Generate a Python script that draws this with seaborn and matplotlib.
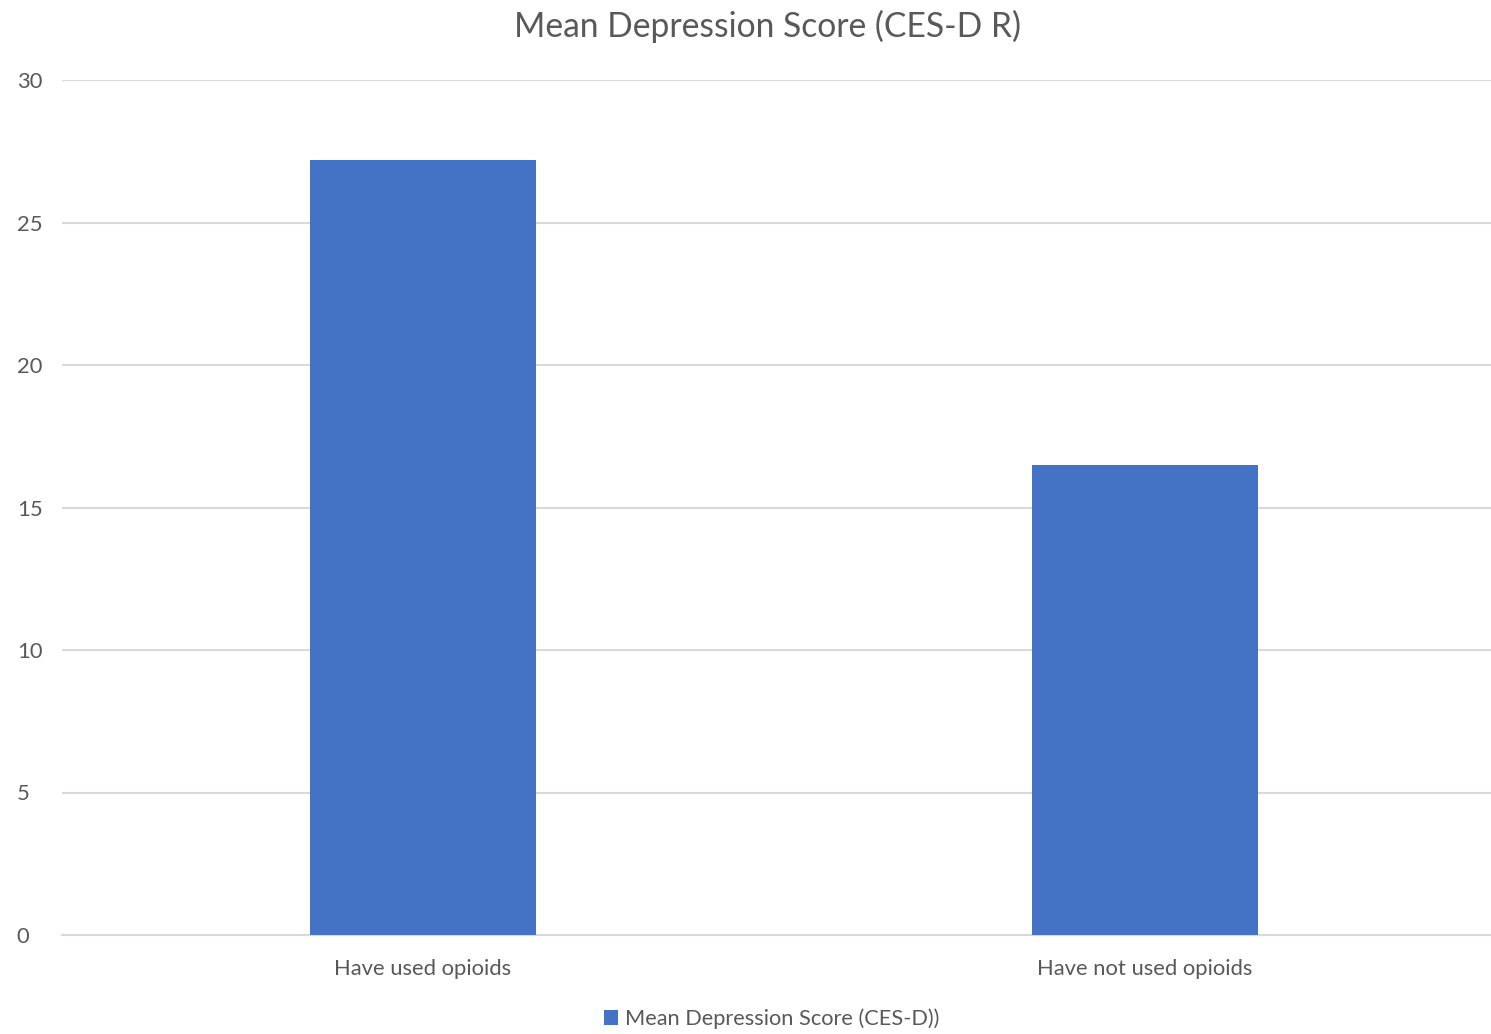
import matplotlib
matplotlib.use("Agg")
import matplotlib.pyplot as plt
import seaborn as sns
import pandas as pd
from matplotlib.patches import Patch

categories = ["Have used opioids", "Have not used opioids"]
values = [27.2, 16.5]
series_name = "Mean Depression Score (CES-D))"
title = "Mean Depression Score (CES-D R)"
yticks = [0, 5, 10, 15, 20, 25, 30]

sns.set_theme(style="white")
plt.rcParams['font.family'] = ['Lato', 'DejaVu Sans']

df = pd.DataFrame({"cat": categories, "val": values})

fig = plt.figure(figsize=(14.91, 10.34), dpi=100)
ax = fig.add_axes([62/1491, 1 - 935/1034, (1491-62)/1491, (935-80)/1034])

color = "#4472C4"
sns.barplot(data=df, x="cat", y="val", color=color, width=0.313, ax=ax,
            saturation=1, edgecolor="none", zorder=3)

ax.set_ylim(0, 30)
ax.set_xlim(-0.5, 1.48)
ax.set_yticks(yticks)
ax.set_yticklabels([str(t) for t in yticks])
ax.yaxis.grid(True, color="#D9D9D9", linewidth=1.5, zorder=0)
ax.set_axisbelow(True)
for s in ["top", "right", "left"]:
    ax.spines[s].set_visible(False)
ax.spines["bottom"].set_color("#D9D9D9")
ax.spines["bottom"].set_linewidth(1.5)
ax.tick_params(axis="both", length=0, labelsize=15.8, colors="#595959")
ax.tick_params(axis="x", pad=17)
ax.tick_params(axis="y", pad=32.5)
for lbl in ax.get_yticklabels():
    lbl.set_horizontalalignment("left")
ax.set_xlabel("")
ax.set_ylabel("")

fig.text(767.5/1491, 1 - 26/1034, title, ha="center", va="center", fontsize=24.2, color="#595959")

handles = [Patch(facecolor=color, edgecolor="none", label=series_name)]
fig.legend(handles=handles, loc="center", bbox_to_anchor=(0.5175, 1 - 1019/1034),
           frameon=False, fontsize=15.7, labelcolor="#595959",
           handlelength=0.65, handleheight=0.65, handletextpad=0.3)

fig.savefig("out.png", dpi=100)
